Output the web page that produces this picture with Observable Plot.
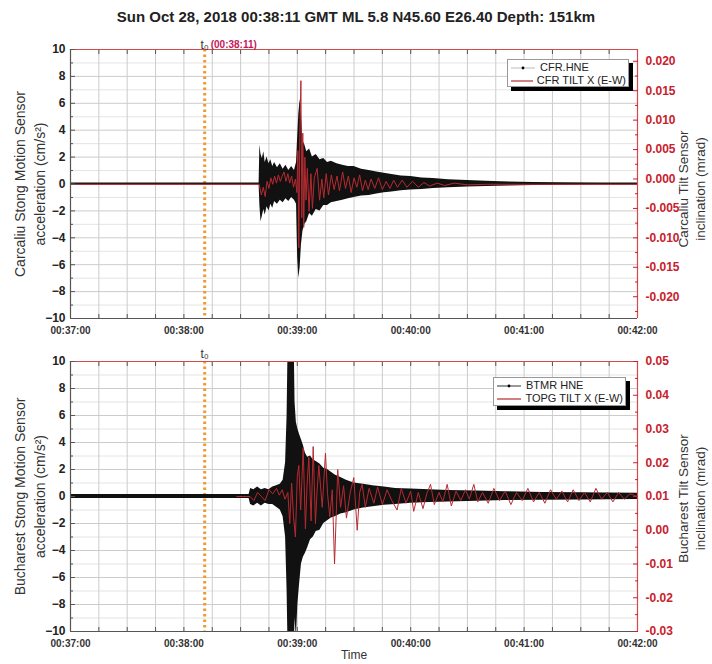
<!DOCTYPE html>
<html>
<head>
<meta charset="utf-8">
<script src="https://cdn.jsdelivr.net/npm/d3@7"></script>
<script src="https://cdn.jsdelivr.net/npm/@observablehq/plot@0.6"></script>
<style>
  body { margin: 0; background: #fff; font-family: "Liberation Sans", Arial, sans-serif; }
  #wrap { position: relative; width: 712px; height: 664px; overflow: hidden; background: #fff; }
  #title { position: absolute; left: 0; top: 0; width: 712px; height: 26px; padding-top: 8px; box-sizing: border-box;
           text-align: center; font-weight: bold; font-size: 15px; line-height: 18px; color: #222; }
  .panel { position: absolute; left: 0; }
  .legend { position: absolute; background: #fff; border: 1px solid #999; box-shadow: 4px 4px 0 #000;
            font-size: 11px; color: #222; line-height: 13px; padding: 1px 2px; box-sizing: border-box; }
  .legend div { display: flex; align-items: center; white-space: nowrap; }
  .legend svg { margin-right: 4px; }
</style>
</head>
<body>
<div id="wrap">
  <div id="title">Sun Oct 28, 2018 00:38:11 GMT ML 5.8 N45.60 E26.40 Depth: 151km</div>
</div>
<script>
// ---------- shared axis values ----------
const startUTC = Date.UTC(2018, 9, 28, 0, 37, 0);          // 00:37:00
const xDomainSec = [0, 300];                                 // 00:37:00 .. 00:42:00
const xLabelSec = [0, 60, 120, 180, 240, 300];
const xGridSec = [15, 30, 45, 60, 75, 90, 105, 120, 135, 150, 165, 180, 195, 210, 225, 240, 255, 270, 285];
const t0Sec = 71;                                            // 00:38:11
const leftDomain = [-10, 10];
const leftMajor = [-10, -8, -6, -4, -2, 0, 2, 4, 6, 8, 10];
const leftMinor = [-9, -7, -5, -3, -1, 1, 3, 5, 7, 9];

// ---------- top panel: Carcaliu ----------
const cfrTitleLeft = "Carcaliu Stong Motion Sensor\nacceleration (cm/s²)";
const cfrTitleRight = "Carcaliu Tilt Sensor\ninclination (mrad)";
const cfrRightDomain = [-0.0237, 0.0220];
const cfrRightTicks = [-0.020, -0.015, -0.010, -0.005, 0.000, 0.005, 0.010, 0.015, 0.020];
const cfrRightMinor = [-0.0225, -0.0175, -0.0125, -0.0075, -0.0025, 0.0025, 0.0075, 0.0125, 0.0175];
// CFR.HNE acceleration envelope (cm/s²): time (s after 00:37:00), upper, lower
const cfrT = [0, 99.8, 100.2, 100.8, 101.5, 102.3, 103, 104, 105, 106, 107, 108, 109.5, 111, 112.5, 114, 115.5, 117, 118.5, 119.6,
  120.2, 120.8, 121.5, 122.2, 123, 124, 125, 126.5, 128, 130, 132, 134, 136, 138, 141, 144, 147, 150, 154, 158,
  162, 166, 170, 175, 180, 186, 192, 200, 210, 220, 232, 245, 260, 280, 300];
const cfrHi = [0.08, 0.08, 2.9, 2.2, 1.9, 2.4, 1.6, 2.0, 1.5, 1.8, 1.3, 1.6, 1.2, 1.5, 1.1, 1.4, 1.0, 1.3, 1.0, 1.6,
  3.5, 5.2, 6.3, 5.0, 3.2, 2.9, 2.4, 2.6, 2.0, 2.2, 1.8, 1.9, 1.6, 1.7, 1.5, 1.4, 1.3, 1.3, 1.1, 1.0,
  0.9, 0.8, 0.7, 0.6, 0.55, 0.45, 0.4, 0.32, 0.26, 0.2, 0.15, 0.12, 0.1, 0.08, 0.08];
const cfrLo = [-0.08, -0.08, -1.6, -2.8, -2.4, -1.9, -2.3, -1.7, -2.0, -1.5, -1.8, -1.3, -1.5, -1.2, -1.4, -1.1, -1.3, -1.0, -1.2, -1.5,
  -5.5, -7.0, -6.2, -4.5, -3.5, -3.0, -2.8, -2.2, -2.4, -1.9, -2.0, -1.6, -1.6, -1.4, -1.3, -1.2, -1.1, -1.0, -0.9, -0.85,
  -0.75, -0.65, -0.6, -0.5, -0.45, -0.4, -0.33, -0.28, -0.22, -0.18, -0.14, -0.11, -0.1, -0.08, -0.08];
// CFR TILT X (E-W) inclination (mrad)
const cfrTiltT = [0, 99.8, 101, 102, 103, 104, 105, 106, 107, 108, 109, 110, 111, 112, 113, 114, 115, 116, 117, 118, 119, 119.8,
  120.3, 120.8, 121.3, 121.9, 122.4, 122.9, 123.4, 124, 124.6, 125.3, 126.2, 127.2, 128, 129, 130.5, 131.8, 133, 134,
  135.3, 136.5, 138, 139.5, 141, 142.3, 144, 145.5, 147, 148.5, 150, 151.5, 153, 154.5, 156, 157.5, 159, 161, 163, 165,
  167, 169, 171, 173, 175.5, 178, 181, 184, 187, 190, 194, 198, 203, 210, 220, 300];
const cfrTiltV = [-0.0009, -0.0009, -0.0027, -0.0014, -0.0030, -0.0004, -0.0016, 0.0002, -0.0009, 0.0005, -0.0007, 0.0007, -0.0004, 0.0005, 0.0012, -0.0004, 0.0009, -0.0007, 0.0005, -0.0014, 0.0000, -0.0023,
  0.0048, -0.0117, 0.0071, 0.0167, -0.0066, 0.0078, -0.0082, 0.0037, -0.0036, 0.0018, -0.0055, 0.0009, -0.0050, 0.0002, 0.0018, -0.0036, 0.0000, -0.0032,
  0.0009, -0.0027, 0.0007, -0.0018, 0.0005, -0.0020, 0.0012, -0.0016, 0.0005, -0.0023, 0.0002, -0.0014, 0.0007, -0.0020, -0.0002, -0.0018, 0.0000, -0.0016, 0.0002, -0.0018,
  -0.0004, -0.0016, -0.0002, -0.0014, -0.0002, -0.0014, -0.0004, -0.0014, -0.0006, -0.0012, -0.0007, -0.0011, -0.0007, -0.0010, -0.0009, -0.0009];

// ---------- bottom panel: Bucharest ----------
const btmTitleLeft = "Bucharest Stong Motion Sensor\nacceleration (cm/s²)";
const btmTitleRight = "Bucharest Tilt Sensor\ninclination (mrad)";
const btmRightDomain = [-0.03, 0.05];
const btmRightTicks = [-0.03, -0.02, -0.01, 0.00, 0.01, 0.02, 0.03, 0.04, 0.05];
const btmRightMinor = [-0.025, -0.015, -0.005, 0.005, 0.015, 0.025, 0.035, 0.045];
// BTMR HNE acceleration envelope (cm/s²)
const btmT = [0, 94.5, 95.3, 97, 99, 101, 103, 105, 107, 109, 111, 112.5, 113.8, 114.6, 115.2, 118.3, 118.8, 119.5, 120.3, 121.2,
  122.2, 123.2, 124.3, 125.5, 127, 128.5, 130, 132, 134, 136, 138, 140, 143, 146, 150, 155, 160, 166, 172, 180,
  190, 200, 215, 230, 250, 270, 300];
const btmHi = [0.15, 0.15, 0.6, 0.5, 0.7, 0.5, 0.6, 0.5, 0.7, 0.8, 0.9, 1.2, 2.5, 6, 12, 12, 7, 5.5, 5.0, 4.6,
  4.2, 3.8, 3.2, 2.9, 3.0, 2.7, 2.6, 2.4, 2.1, 2.0, 1.8, 1.6, 1.4, 1.2, 1.0, 0.9, 0.8, 0.7, 0.6, 0.55,
  0.5, 0.45, 0.4, 0.35, 0.3, 0.28, 0.25];
const btmLo = [-0.15, -0.15, -0.6, -0.7, -0.5, -0.7, -0.5, -0.6, -0.6, -0.8, -1.0, -1.5, -3.0, -7, -12, -12, -9, -10.5, -8.0, -6.5,
  -5.0, -4.5, -4.2, -3.8, -3.2, -3.0, -2.6, -2.5, -2.0, -1.8, -1.6, -1.5, -1.3, -1.2, -1.0, -0.85, -0.75, -0.65, -0.6, -0.5,
  -0.45, -0.4, -0.35, -0.3, -0.28, -0.25, -0.22];
// TOPG TILT X (E-W) inclination (mrad)
const topgT = [88, 95, 97, 99, 101, 103, 105, 107, 109, 110.5, 112, 113.5, 115, 116, 117, 118, 119, 120, 120.8, 121.8,
  123.1, 124.3, 125.2, 126.1, 127.3, 128.4, 129.6, 130.5, 131.4, 133.2, 134.9, 136, 137.2, 138.5, 139.7, 141.4, 142.9, 144.5, 146, 148,
  149.9, 151.7, 153, 154.3, 156, 158, 160.5, 162.5, 165, 167.5, 170, 172.8, 175, 177.5, 180, 181.6, 184, 186.5, 188.5, 190.5,
  192.5, 195, 197, 199.3, 201.5, 204, 206.5, 209, 211, 213.4, 215.5, 218, 221, 224, 227, 230, 233, 236, 239, 242,
  245, 248, 251, 254, 257, 260, 263, 266, 269, 272, 275, 278, 281, 284, 287, 290, 293, 296, 300];
const topgV = [0.0100, 0.0100, 0.0088, 0.0112, 0.0100, 0.0088, 0.0120, 0.0108, 0.0124, 0.0104, 0.0120, 0.0092, 0.0112, 0.0020, 0.0140, 0.0040, -0.0020, 0.0160, 0.0192, 0.0060,
  0.0244, 0.0004, 0.0140, 0.0216, 0.0028, 0.0248, 0.0020, 0.0120, 0.0192, 0.0068, 0.0228, 0.0108, 0.0040, 0.0120, -0.0100, 0.0180, 0.0068, 0.0132, 0.0036, 0.0112,
  0.0156, 0.0000, 0.0112, 0.0136, 0.0068, 0.0124, 0.0080, 0.0128, 0.0076, 0.0120, 0.0088, 0.0060, 0.0124, 0.0080, 0.0116, 0.0056, 0.0112, 0.0064, 0.0108, 0.0136,
  0.0076, 0.0112, 0.0084, 0.0136, 0.0072, 0.0116, 0.0088, 0.0120, 0.0092, 0.0136, 0.0084, 0.0112, 0.0080, 0.0124, 0.0088, 0.0116, 0.0076, 0.0112, 0.0088, 0.0124,
  0.0084, 0.0112, 0.0080, 0.0120, 0.0092, 0.0116, 0.0084, 0.0120, 0.0088, 0.0112, 0.0084, 0.0124, 0.0092, 0.0112, 0.0084, 0.0112, 0.0092, 0.0108, 0.0100];

// ---------- drawing ----------
const toDate = s => new Date(startUTC + s * 1000);
const RED = "#c8202c";
const RED_LINE = "#b52a30";
const AXIS = "#555";
const FONT = "'Liberation Sans', Arial, sans-serif";

function panel(o) {
  const [rLo, rHi] = o.rightDomain;
  const toLeft = v => (v - rLo) / (rHi - rLo) * (leftDomain[1] - leftDomain[0]) + leftDomain[0];
  const fromLeft = y => (y - leftDomain[0]) / (leftDomain[1] - leftDomain[0]) * (rHi - rLo) + rLo;
  const env = o.envT.map((t, i) => ({date: toDate(t), hi: o.envHi[i], lo: o.envLo[i]}));
  const tilt = o.tiltT.map((t, i) => ({date: toDate(t), v: toLeft(o.tiltV[i])}));
  const xMin = toDate(xDomainSec[0]), xMax = toDate(xDomainSec[1]);
  const t0 = toDate(t0Sec);
  const gridDates = xGridSec.map(toDate);
  const empty = () => "";
  const marks = [
    Plot.gridY(leftMinor, {stroke: "#e4e4e4", strokeOpacity: 1}),
    Plot.gridY(leftMajor, {stroke: "#cccccc", strokeOpacity: 1}),
    Plot.gridX(gridDates, {stroke: "#cccccc", strokeOpacity: 1}),
    Plot.ruleX([t0], {stroke: "#ef9a2c", strokeWidth: 3, strokeDasharray: "2.5,3"}),
    Plot.areaY(env, {x: "date", y1: "lo", y2: "hi", fill: "#111", clip: true}),
    Plot.line(tilt, {x: "date", y: "v", stroke: RED_LINE, strokeWidth: 1, clip: true}),
    Plot.ruleY([leftDomain[0]], {stroke: AXIS, strokeWidth: 1.2}),
    Plot.ruleX([xMin], {stroke: AXIS, strokeWidth: 1.2}),
    Plot.ruleY([leftDomain[1]], {stroke: "#d24a4a", strokeWidth: 1.2}),
    Plot.ruleX([xMax], {stroke: "#d24a4a", strokeWidth: 1.2}),
    Plot.axisY(leftMajor, {anchor: "left", tickSize: 0, tickPadding: 5, fontSize: 12, fontWeight: "bold", fill: "#222", label: null}),
    Plot.axisY(leftMajor, {anchor: "left", tickSize: -5, tickFormat: empty, stroke: AXIS, label: null}),
    Plot.axisY(leftMinor, {anchor: "left", tickSize: -3, tickFormat: empty, stroke: AXIS, label: null}),
    Plot.axisY(o.rightTicks.map(toLeft), {anchor: "right", tickSize: 0, tickPadding: 8, fontSize: 12, fontWeight: "bold", fill: RED, label: null,
      tickFormat: y => { const v = fromLeft(y); return (Math.abs(v) < 1e-9 ? 0 : v).toFixed(o.digits); }}),
    Plot.axisY(o.rightTicks.map(toLeft), {anchor: "right", tickSize: -5, tickFormat: empty, stroke: RED, label: null}),
    Plot.axisY(o.rightMinor.map(toLeft), {anchor: "right", tickSize: -3, tickFormat: empty, stroke: RED, label: null}),
    Plot.axisX(xLabelSec.map(toDate), {anchor: "bottom", tickSize: 0, tickPadding: 8, fontSize: 10, fontWeight: "bold", fill: "#333", label: null,
      tickFormat: d3.utcFormat("%H:%M:%S")}),
    Plot.axisX(gridDates, {anchor: "bottom", tickSize: -4, tickFormat: empty, stroke: AXIS, label: null}),
    Plot.axisX(gridDates, {anchor: "top", tickSize: -4, tickFormat: empty, stroke: AXIS, label: null}),
    Plot.text([o.leftTitle], {frameAnchor: "left", textAnchor: "middle", dx: -42, rotate: -90, lineHeight: 1.45, fontSize: 14, fill: "#333"}),
    Plot.text([o.rightTitle], {frameAnchor: "right", textAnchor: "middle", dx: 54, dy: o.rightTitleDy, rotate: -90, lineHeight: 1.25, fontSize: 13.5, fill: "#333"}),
    Plot.text([t0], {x: d => d, frameAnchor: "top", dy: o.t0dy, text: () => "t₀", fontSize: 12, fill: "#333"})
  ];
  if (o.t0Time) marks.push(Plot.text([t0], {x: d => d, frameAnchor: "top", dy: o.t0dy, dx: 6, textAnchor: "start",
    text: () => o.t0Time, fontSize: 10, fontWeight: "bold", fill: "#c2185b"}));
  if (o.xTitle) marks.push(Plot.text([o.xTitle], {frameAnchor: "bottom", dy: 27, fontSize: 12, fill: "#333"}));
  return Plot.plot({
    width: 712, height: o.height,
    marginLeft: 70, marginRight: 75, marginTop: o.marginTop, marginBottom: o.marginBottom,
    x: {type: "utc", domain: [xMin, xMax], axis: null},
    y: {domain: leftDomain, axis: null},
    style: {fontFamily: FONT, background: "transparent", overflow: "visible"},
    marks
  });
}

const wrap = document.getElementById("wrap");
function place(el, top) {
  const d = document.createElement("div");
  d.className = "panel"; d.style.top = top + "px";
  d.appendChild(el); wrap.appendChild(d);
}
place(panel({height: 310, marginTop: 23, marginBottom: 18, rightDomain: cfrRightDomain, rightTicks: cfrRightTicks, rightMinor: cfrRightMinor, digits: 3,
  envT: cfrT, envHi: cfrHi, envLo: cfrLo, tiltT: cfrTiltT, tiltV: cfrTiltV, leftTitle: cfrTitleLeft, rightTitle: cfrTitleRight,
  t0dy: -9, t0Time: "(00:38:11)", rightTitleDy: 5}), 26);
place(panel({height: 328, marginTop: 25, marginBottom: 33, rightDomain: btmRightDomain, rightTicks: btmRightTicks, rightMinor: btmRightMinor, digits: 2,
  envT: btmT, envHi: btmHi, envLo: btmLo, tiltT: topgT, tiltV: topgV, leftTitle: btmTitleLeft, rightTitle: btmTitleRight,
  t0dy: -12, xTitle: "Time", rightTitleDy: 2}), 336);

// ---------- legends ----------
function legend(left, top, w, h, items) {
  const box = document.createElement("div");
  box.className = "legend";
  Object.assign(box.style, {left: left + "px", top: top + "px", width: w + "px", height: h + "px"});
  for (const it of items) {
    const row = document.createElement("div");
    const s = d3.create("svg").attr("width", 26).attr("height", 12);
    s.append("line").attr("x1", 1).attr("x2", 25).attr("y1", 6).attr("y2", 6)
      .attr("stroke", it.color).attr("stroke-width", it.width);
    if (it.dot) s.append("circle").attr("cx", 13).attr("cy", 6).attr("r", 1.4).attr("fill", "#000");
    row.appendChild(s.node());
    row.appendChild(document.createTextNode(it.label));
    box.appendChild(row);
  }
  wrap.appendChild(box);
}
legend(507, 59, 122, 28, [
  {label: "CFR.HNE", color: "#aaa", width: 0.8, dot: true},
  {label: "CFR TILT X (E-W)", color: RED_LINE, width: 1.2}
]);
legend(493, 377, 133, 29, [
  {label: "BTMR HNE", color: "#333", width: 1, dot: true},
  {label: "TOPG TILT X (E-W)", color: RED_LINE, width: 1.2}
]);
</script>
</body>
</html>
